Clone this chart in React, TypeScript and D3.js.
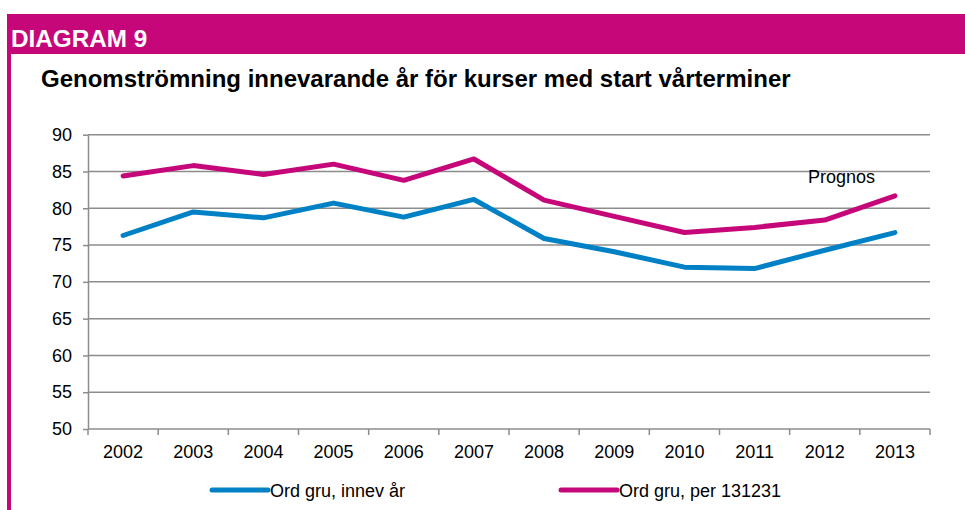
import { useEffect, useRef } from "react";
import * as d3 from "d3";

const years = ["2002", "2003", "2004", "2005", "2006", "2007", "2008", "2009", "2010", "2011", "2012", "2013"];
const innevAr = [76.3, 79.5, 78.7, 80.7, 78.8, 81.2, 75.9, 74.1, 72.0, 71.8, 74.3, 76.7];
const per131231 = [84.4, 85.8, 84.6, 86.0, 83.8, 86.7, 81.1, 78.9, 76.7, 77.4, 78.4, 81.7];
const yTicks = [50, 55, 60, 65, 70, 75, 80, 85, 90];

const BLUE = "#0081c6";
const MAGENTA = "#c5077a";
const FONT = "Liberation Sans, Arial, sans-serif";

export default function App() {
  const ref = useRef<SVGSVGElement | null>(null);

  useEffect(() => {
    const width = 965;
    const height = 510;
    const margin = { top: 134.7, right: 35, bottom: 81, left: 88 };

    const svg = d3.select(ref.current);
    svg.selectAll("*").remove();
    svg.attr("viewBox", `0 0 ${width} ${height}`);

    // frame: header bar + left stripe
    svg.append("rect").attr("x", 7).attr("y", 14).attr("width", width - 7).attr("height", 40).attr("fill", MAGENTA);
    svg.append("rect").attr("x", 7).attr("y", 14).attr("width", 4).attr("height", height - 14).attr("fill", MAGENTA);

    svg
      .append("text")
      .attr("x", 11)
      .attr("y", 47)
      .attr("fill", "#fff")
      .attr("font-family", FONT)
      .attr("font-weight", "bold")
      .attr("font-size", 24.3)
      .text("DIAGRAM 9");

    svg
      .append("text")
      .attr("x", 41)
      .attr("y", 87)
      .attr("fill", "#000")
      .attr("font-family", FONT)
      .attr("font-weight", "bold")
      .attr("font-size", 24)
      .text("Genomströmning innevarande år för kurser med start vårterminer");

    const x = d3
      .scaleBand()
      .domain(years)
      .range([margin.left, width - margin.right])
      .padding(0);
    const y = d3
      .scaleLinear()
      .domain([50, 90])
      .range([height - margin.bottom, margin.top]);

    // gridlines
    svg
      .append("g")
      .selectAll("line")
      .data(yTicks.slice(1))
      .join("line")
      .attr("x1", margin.left)
      .attr("x2", width - margin.right)
      .attr("y1", (d) => y(d))
      .attr("y2", (d) => y(d))
      .attr("stroke", "#8c8c8c")
      .attr("stroke-width", 1.5);

    // y axis
    svg
      .append("g")
      .attr("transform", `translate(${margin.left},0)`)
      .call(d3.axisLeft(y).tickValues(yTicks).tickSize(5).tickPadding(11).tickSizeOuter(0))
      .call((g) => g.select(".domain").attr("stroke", "#8c8c8c").attr("stroke-width", 1.5))
      .call((g) => g.selectAll(".tick line").attr("stroke", "#8c8c8c").attr("stroke-width", 1.5))
      .call((g) =>
        g.selectAll("text").attr("fill", "#000").attr("font-size", 18).attr("font-family", FONT),
      );

    // x axis
    const xAxis = svg.append("g").attr("transform", `translate(0,${y(50)})`);
    xAxis
      .append("line")
      .attr("x1", margin.left)
      .attr("x2", width - margin.right)
      .attr("stroke", "#8c8c8c")
      .attr("stroke-width", 1.5);
    xAxis
      .selectAll("line.tk")
      .data([...years, "end"])
      .join("line")
      .attr("class", "tk")
      .attr("x1", (d, i) => (i < years.length ? x(d)! : x(years[years.length - 1])! + x.bandwidth()))
      .attr("x2", (d, i) => (i < years.length ? x(d)! : x(years[years.length - 1])! + x.bandwidth()))
      .attr("y2", 6)
      .attr("stroke", "#8c8c8c")
      .attr("stroke-width", 1.5);
    xAxis
      .selectAll("text")
      .data(years)
      .join("text")
      .attr("x", (d) => x(d)! + x.bandwidth() / 2)
      .attr("y", 29)
      .attr("text-anchor", "middle")
      .attr("font-family", FONT)
      .attr("font-size", 18)
      .attr("fill", "#000")
      .text((d) => d);

    const line = d3
      .line<number>()
      .x((_, i) => x(years[i])! + x.bandwidth() / 2)
      .y((d) => y(d));

    [
      { values: per131231, color: MAGENTA },
      { values: innevAr, color: BLUE },
    ].forEach((s) => {
      svg
        .append("path")
        .datum(s.values)
        .attr("d", line)
        .attr("fill", "none")
        .attr("stroke", s.color)
        .attr("stroke-width", 5)
        .attr("stroke-linejoin", "round")
        .attr("stroke-linecap", "round");
    });

    svg
      .append("text")
      .attr("x", 808)
      .attr("y", 183)
      .attr("font-family", FONT)
      .attr("font-size", 18)
      .attr("fill", "#000")
      .text("Prognos");

    // legend
    const legend = [
      { label: "Ord gru, innev år", color: BLUE, x: 212 },
      { label: "Ord gru, per 131231", color: MAGENTA, x: 561 },
    ];
    const lg = svg.append("g").selectAll("g").data(legend).join("g").attr("transform", (d) => `translate(${d.x},490)`);
    lg.append("line").attr("x1", 0).attr("x2", 56).attr("stroke", (d) => d.color).attr("stroke-width", 5).attr("stroke-linecap", "round");
    lg
      .append("text")
      .attr("x", 58)
      .attr("y", 6.5)
      .attr("font-family", FONT)
      .attr("font-size", 18)
      .attr("fill", "#000")
      .text((d) => d.label);
  }, []);

  return (
    <div style={{ position: "absolute", left: 0, top: 0, width: 965, height: 510, background: "#fff" }}>
      <svg ref={ref} width={965} height={510} style={{ display: "block" }} />
    </div>
  );
}
